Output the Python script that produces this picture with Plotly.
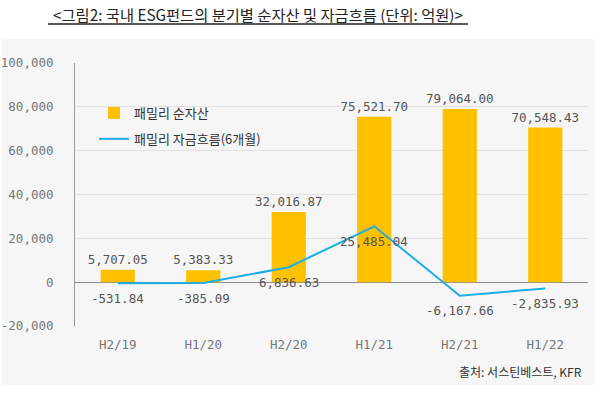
import plotly.graph_objects as go

categories = ["H2/19", "H1/20", "H2/20", "H1/21", "H2/21", "H1/22"]
net_assets = [5707.05, 5383.33, 32016.87, 75521.70, 79064.00, 70548.43]
fund_flow = [-531.84, -385.09, 6836.63, 25485.04, -6167.66, -2835.93]
y_ticks = [-20000, 0, 20000, 40000, 60000, 80000, 100000]
y_tick_labels = ["-20,000", "0", "20,000", "40,000", "60,000", "80,000", "100,000"]

MONO = "DejaVu Sans Mono, Roboto Mono, monospace"
KR = "Noto Sans CJK KR, Noto Sans, sans-serif"

L, R, T, B = 75, 12, 63, 71
W, H = 600, 397
pw, ph = W - L - R, H - T - B

def px(x):
    return (x - L) / pw

def py(y):
    return (H - B - y) / ph

fig = go.Figure()
fig.add_trace(go.Bar(
    x=categories, y=net_assets, name="패밀리 순자산",
    marker=dict(color="#FFC000", line=dict(width=0)), width=0.4,
    texttemplate="%{y:,.2f}", textposition="outside", constraintext="none",
    textfont=dict(family=MONO, size=12.5, color="#555555"),
    cliponaxis=False, legendgroup="a",
))
fig.add_trace(go.Scatter(
    x=categories, y=fund_flow, name="패밀리 자금흐름(6개월)",
    mode="lines", line=dict(color="#1AAEE6", width=2),
    cliponaxis=False, legendgroup="b",
))

annotations = [
    dict(text="<그림2: 국내 ESG펀드의 분기별 순자산 및 자금흐름 (단위: 억원)>",
         xref="paper", yref="paper", x=px(258), y=py(14),
         xanchor="center", yanchor="middle", showarrow=False,
         font=dict(family=KR, size=15.3, color="#222222")),
    dict(text="출처: 서스틴베스트, KFR", xref="paper", yref="paper",
         x=px(584), y=py(371), xanchor="right", yanchor="middle",
         showarrow=False, font=dict(family=KR, size=12, color="#333333")),
]
for c, v in zip(categories, fund_flow):
    annotations.append(dict(
        x=c, y=v, xref="x", yref="y", text=f"{v:,.2f}", showarrow=False,
        xanchor="center", yanchor="middle", yshift=-15,
        font=dict(family=MONO, size=12.5, color="#555555")))

fig.update_layout(
    width=W, height=H,
    margin=dict(l=L, r=R, t=T, b=B, autoexpand=False),
    paper_bgcolor="white",
    plot_bgcolor="#F6F6F6",
    showlegend=True,
    legend=dict(x=px(94), y=py(98), xanchor="left", yanchor="top",
                bgcolor="rgba(0,0,0,0)", tracegroupgap=6,
                font=dict(family=KR, size=13, color="#333333")),
    xaxis=dict(showgrid=False, showline=False, ticks="",
               tickfont=dict(family=MONO, size=12.5, color="#777777"),
               ticklabelstandoff=9),
    yaxis=dict(range=[-20000, 100000], tickvals=y_ticks, ticktext=y_tick_labels,
               showgrid=True, gridcolor="#E2E2E2", gridwidth=1,
               zeroline=True, zerolinecolor="#8A8A8A", zerolinewidth=1,
               showline=True, linecolor="#9A9A9A", linewidth=1,
               tickfont=dict(family=MONO, size=12.5, color="#777777"),
               ticklabelstandoff=18),
    bargap=0.6,
    shapes=[
        dict(type="rect", xref="paper", yref="paper", layer="below",
             x0=px(2), x1=px(595), y0=py(385), y1=py(39),
             fillcolor="#F6F6F6", line=dict(width=0)),
        dict(type="line", xref="paper", yref="paper",
             x0=px(48), x1=px(468), y0=py(24), y1=py(24),
             line=dict(color="#222222", width=1.5)),
    ],
    annotations=annotations,
)

fig.write_html("out.html", config={"displayModeBar": False},
               post_script="document.body.style.margin='0';document.body.style.overflow='hidden';")
